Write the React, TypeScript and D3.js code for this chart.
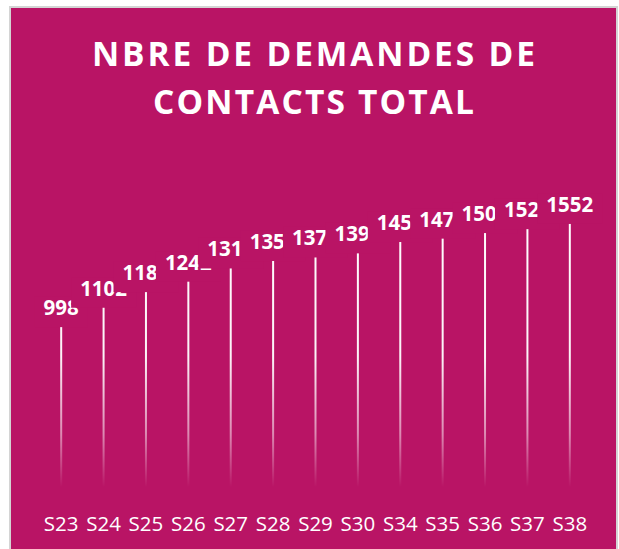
import React from "react";
import * as d3 from "d3";

const categories = ["S23", "S24", "S25", "S26", "S27", "S28", "S29", "S30", "S34", "S35", "S36", "S37", "S38"];
const values = [998, 1102, 1186, 1242, 1313, 1353, 1372, 1394, 1455, 1473, 1503, 1524, 1552];
const titleLines = ["NBRE DE DEMANDES DE", "CONTACTS TOTAL"];
const titleWidths = [443, 321];

const W = 619;
const H = 549;
const BG = "#B91465";

export default function App() {
  const x = d3.scaleBand<string>().domain(categories).range([40, 591]).padding(0);
  const y = d3.scaleLinear().domain([0, 1600]).range([512, 214]);
  const font = "'Open Sans', 'DejaVu Sans', sans-serif";
  const labelSize = 20.5;
  const digitW = labelSize * 0.572;
  const capH = labelSize * 0.714;

  return (
    <svg
      width={W}
      height={H}
      style={{ position: "absolute", left: 0, top: 0, display: "block" }}
    >
      <defs>
        <linearGradient id="barGrad" gradientUnits="userSpaceOnUse" x1="0" y1="200" x2="0" y2="512">
          <stop offset="0" stopColor="#ffffff" stopOpacity={1} />
          <stop offset="0.5" stopColor="#ffffff" stopOpacity={0.95} />
          <stop offset="0.75" stopColor="#ffffff" stopOpacity={0.5} />
          <stop offset="0.92" stopColor="#ffffff" stopOpacity={0} />
        </linearGradient>
      </defs>
      <rect x={0} y={0} width={W} height={H} fill="#ffffff" />
      <rect x={10} y={7} width={607} height={H} fill={BG} stroke="#d4d4d4" strokeWidth={2} />

      {titleLines.map((t, i) => (
        <text
          key={t}
          x={313.5 - titleWidths[i] / 2}
          y={i === 0 ? 66 : 113.5}
          textLength={titleWidths[i]}
          lengthAdjust="spacing"
          fill="#ffffff"
          fontFamily={font}
          fontWeight={700}
          fontSize={33.5}
        >
          {t}
        </text>
      ))}

      {values.map((v, i) => {
        const cx = (x(categories[i]) as number) + x.bandwidth() / 2;
        return (
          <rect
            key={"b" + i}
            x={cx - 1}
            y={y(v)}
            width={2}
            height={y(0) - y(v)}
            fill="url(#barGrad)"
          />
        );
      })}

      {values.map((v, i) => {
        const cx = (x(categories[i]) as number) + x.bandwidth() / 2;
        const label = String(v);
        const tw = label.length * digitW;
        const base = y(v) - 11;
        const pad = 9;
        return (
          <g key={"l" + i}>
            <rect
              x={cx - tw / 2 - pad}
              y={base - capH - 4}
              width={tw + 2 * pad}
              height={capH + 4 + 12}
              fill={BG}
            />
            <text
              x={cx}
              y={base}
              textAnchor="middle"
              fill="#ffffff"
              fontFamily={font}
              fontWeight={700}
              fontSize={labelSize}
            >
              {label}
            </text>
          </g>
        );
      })}

      {categories.map((c) => (
        <text
          key={c}
          x={(x(c) as number) + x.bandwidth() / 2}
          y={531}
          textAnchor="middle"
          fill="#ffffff"
          fontFamily={font}
          fontSize={20.5}
        >
          {c}
        </text>
      ))}
    </svg>
  );
}
